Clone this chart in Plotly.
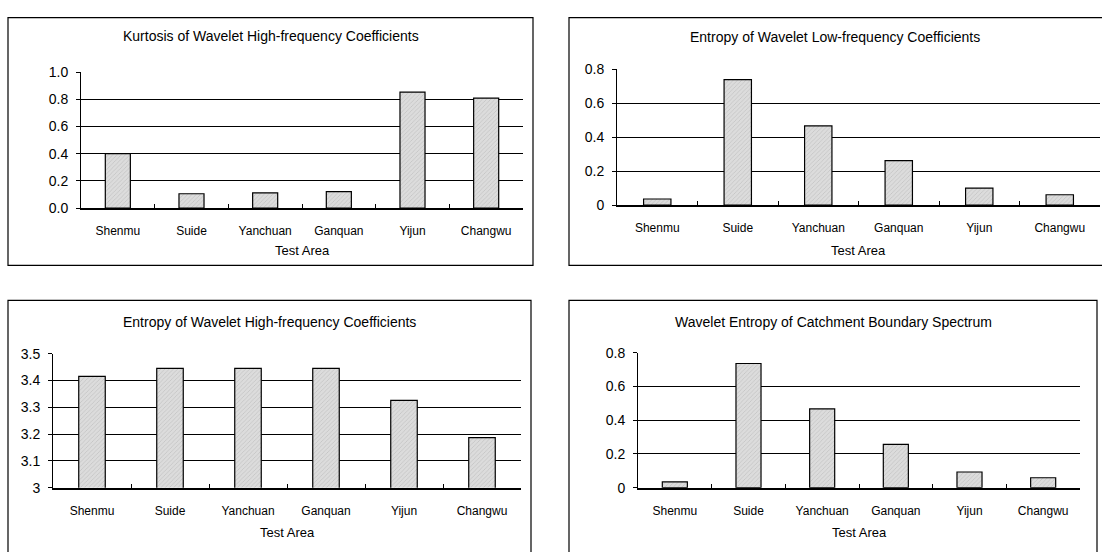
import plotly.graph_objects as go

categories = ["Shenmu", "Suide", "Yanchuan", "Ganquan", "Yijun", "Changwu"]

kurtosis_high = [0.40, 0.105, 0.112, 0.12, 0.852, 0.809]
entropy_low = [0.036, 0.739, 0.466, 0.262, 0.100, 0.061]
entropy_high = [3.415, 3.445, 3.445, 3.445, 3.326, 3.187]
wavelet_entropy = [0.034, 0.736, 0.467, 0.257, 0.093, 0.059]

titles = [
    "Kurtosis of Wavelet High-frequency Coefficients",
    "Entropy of Wavelet Low-frequency Coefficients",
    "Entropy of Wavelet High-frequency Coefficients",
    "Wavelet Entropy of Catchment Boundary Spectrum",
]
x_title = "Test Area"

W, H = 1102, 552
FONT = "Liberation Sans, Arial, sans-serif"

def px_x(v):
    return v / W

def px_y(v):
    return 1 - v / H

# panels: (data, yrange, tickvals, ticktext, plot px box (x0,x1,ytop,ybot), border px box, title y px, xtitle y px)
panels = [
    (kurtosis_high, [0, 1.0], [0, 0.2, 0.4, 0.6, 0.8, 1.0],
     ["0.0", "0.2", "0.4", "0.6", "0.8", "1.0"],
     (81, 523, 66, 206), (8, 533, 10, 265), 29, 250),
    (entropy_low, [0, 0.8], [0, 0.2, 0.4, 0.6, 0.8],
     ["0", "0.2", "0.4", "0.6", "0.8"],
     (617, 1100, 63, 203), (569, 1110, 10, 265), 30, 250),
    (entropy_high, [3, 3.5], [3, 3.1, 3.2, 3.3, 3.4, 3.5],
     ["3", "3.1", "3.2", "3.3", "3.4", "3.5"],
     (53, 521, 356, 494), (8, 531, 301, 570), 323, 540),
    (wavelet_entropy, [0, 0.8], [0, 0.2, 0.4, 0.6, 0.8],
     ["0", "0.2", "0.4", "0.6", "0.8"],
     (638, 1080, 355, 494), (569, 1097, 301, 570), 323, 540),
]

fig = go.Figure()
shapes = []
annotations = []

for i, (vals, yr, tv, tt, pbox, bbox, ty, xty) in enumerate(panels):
    n = i + 1
    xa = "x" if n == 1 else f"x{n}"
    ya = "y" if n == 1 else f"y{n}"
    fig.add_trace(go.Bar(
        x=categories, y=vals, xaxis=xa, yaxis=ya,
        width=0.34,
        marker=dict(
            color="#d6d6d6",
            line=dict(color="black", width=1.2),
            pattern=dict(shape="/", fgcolor="#a8a8a8", bgcolor="#dcdcdc",
                         size=3, solidity=0.25),
        ),
        showlegend=False,
    ))
    x0, x1, yt, yb = pbox
    xkey = "xaxis" if n == 1 else f"xaxis{n}"
    ykey = "yaxis" if n == 1 else f"yaxis{n}"
    fig.update_layout(**{
        xkey: dict(
            domain=[px_x(x0), px_x(x1)], anchor=ya,
            type="category", categoryorder="array", categoryarray=categories,
            range=[-0.5, 5.5],
            showline=True, linecolor="black", linewidth=1.6,
            ticks="inside", tickson="boundaries", ticklen=4,
            tickcolor="black", tickwidth=1,
            showgrid=False, zeroline=False,
            tickfont=dict(family=FONT, size=12, color="black"),
            ticklabelstandoff=11,
        ),
        ykey: dict(
            domain=[px_y(yb), px_y(yt)], anchor=xa,
            range=yr,
            tickvals=tv, ticktext=tt,
            showline=True, linecolor="black", linewidth=1,
            ticks="outside", ticklen=4, tickcolor="black",
            showgrid=True, gridcolor="black", gridwidth=1,
            zeroline=False,
            tickfont=dict(family=FONT, size=14, color="black"),
            ticklabelstandoff=5,
        ),
    })
    bx0, bx1, byt, byb = bbox
    shapes.append(dict(type="rect", xref="paper", yref="paper",
                       x0=px_x(bx0), x1=px_x(bx1), y0=px_y(byb), y1=px_y(byt),
                       line=dict(color="black", width=1.2), fillcolor="rgba(0,0,0,0)",
                       layer="below"))
    annotations.append(dict(text=titles[i], xref="paper", yref="paper",
                            x=px_x((bx0 + bx1) / 2 if bx1 < W else 835), y=px_y(ty),
                            xanchor="center", yanchor="middle", showarrow=False,
                            font=dict(family=FONT, size=14, color="black")))
    annotations.append(dict(text=x_title, xref="paper", yref="paper",
                            x=px_x((x0 + x1) / 2), y=px_y(xty),
                            xanchor="center", yanchor="middle", showarrow=False,
                            font=dict(family=FONT, size=13, color="black")))

fig.update_layout(
    width=W, height=H,
    margin=dict(l=0, r=0, t=0, b=0),
    paper_bgcolor="white", plot_bgcolor="white",
    shapes=shapes, annotations=annotations,
)

fig.write_html("out.html",
               config={"displayModeBar": False},
               post_script="document.body.style.margin='0px';document.body.style.overflow='hidden';")
